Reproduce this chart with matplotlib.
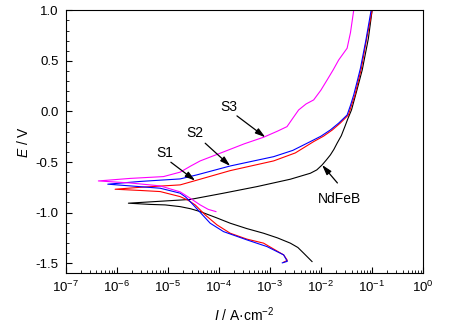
import numpy as np
import matplotlib
matplotlib.use("Agg")
import matplotlib.pyplot as plt
from matplotlib.ticker import LogLocator, MultipleLocator

plt.rcParams['font.family'] = ['Liberation Sans', 'DejaVu Sans']
plt.rcParams['mathtext.fontset'] = 'custom'
plt.rcParams['mathtext.rm'] = 'Liberation Sans'
plt.rcParams['mathtext.it'] = 'Liberation Sans:italic'

# Polarization data: log10 of current density (A/cm2) and potential (V)
# cathodic branch (from Ecorr down) and anodic branch (from Ecorr up)
ndfeb_cat_logi = [-5.769, -5.343, -5.049, -4.755, -4.55, -4.363, -4.05, -3.775, -3.45, -3.122,
                  -2.85, -2.598, -2.45, -2.337, -2.173]
ndfeb_cat_E = [-0.907, -0.919, -0.924, -0.941, -0.962, -0.990, -1.05, -1.105, -1.158, -1.204,
               -1.250, -1.302, -1.345, -1.401, -1.484]
ndfeb_an_logi = [-5.769, -5.343, -4.853, -4.559, -3.906, -3.251, -2.598, -2.206, -2.08, -1.976,
                 -1.89, -1.814, -1.745, -1.682, -1.60, -1.53, -1.47, -1.40, -1.30, -1.19, -1.07, -0.996]
ndfeb_an_E = [-0.907, -0.894, -0.879, -0.870, -0.808, -0.743, -0.670, -0.611, -0.578, -0.529,
              -0.478, -0.430, -0.375, -0.314, -0.240, -0.150, -0.070, 0.015, 0.20, 0.41, 0.72, 1.0]

s1_cat_logi = [-6.029, -5.539, -5.147, -4.755, -4.60, -4.461, -4.265, -4.035, -3.775, -3.45, -3.122,
               -2.729, -2.657, -2.735]
s1_cat_E = [-0.769, -0.781, -0.792, -0.842, -0.878, -0.924, -1.023, -1.121, -1.204, -1.262, -1.302,
            -1.418, -1.472, -1.492]
s1_an_logi = [-6.029, -5.539, -4.755, -4.461, -3.775, -2.925, -2.50, -2.141, -1.95, -1.775, -1.62,
              -1.461, -1.40, -1.333, -1.27, -1.206, -1.11, -0.996]
s1_an_E = [-0.769, -0.750, -0.726, -0.684, -0.585, -0.489, -0.410, -0.298, -0.245, -0.183, -0.115,
           -0.035, 0.060, 0.163, 0.295, 0.427, 0.70, 1.0]

s2_cat_logi = [-6.173, -5.735, -5.147, -4.755, -4.65, -4.559, -4.363, -4.167, -3.906, -3.447,
               -3.055, -2.729, -2.657, -2.755]
s2_cat_E = [-0.719, -0.736, -0.759, -0.808, -0.845, -0.891, -0.998, -1.105, -1.188, -1.270,
            -1.336, -1.418, -1.482, -1.497]
s2_an_logi = [-6.173, -5.539, -4.755, -4.427, -3.775, -2.925, -2.55, -2.206, -2.00, -1.814, -1.65,
              -1.486, -1.42, -1.357, -1.29, -1.225, -1.12, -1.016]
s2_an_E = [-0.719, -0.692, -0.667, -0.627, -0.539, -0.447, -0.385, -0.298, -0.245, -0.183, -0.115,
           -0.035, 0.060, 0.163, 0.295, 0.427, 0.70, 1.0]

s3_cat_logi = [-6.357, -5.735, -5.147, -4.755, -4.559, -4.363, -4.206, -4.055]
s3_cat_E = [-0.687, -0.707, -0.736, -0.795, -0.858, -0.924, -0.968, -0.990]
s3_an_logi = [-6.357, -5.735, -5.082, -4.755, -4.55, -4.363, -3.906, -3.50, -3.122, -2.85, -2.663,
              -2.545, -2.435, -2.290, -2.141, -2.00, -1.878, -1.76, -1.651, -1.486, -1.42, -1.357]
s3_an_E = [-0.687, -0.662, -0.644, -0.600, -0.540, -0.489, -0.400, -0.320, -0.255, -0.195, -0.150,
           -0.064, 0.015, 0.074, 0.114, 0.210, 0.311, 0.410, 0.509, 0.625, 0.780, 1.0]

curves = [
    ('NdFeB', ndfeb_cat_logi, ndfeb_cat_E, ndfeb_an_logi, ndfeb_an_E, 'black'),
    ('S1', s1_cat_logi, s1_cat_E, s1_an_logi, s1_an_E, '#ff0000'),
    ('S2', s2_cat_logi, s2_cat_E, s2_an_logi, s2_an_E, '#0000ff'),
    ('S3', s3_cat_logi, s3_cat_E, s3_an_logi, s3_an_E, '#ff00ff'),
]

fig = plt.figure(figsize=(4.5, 3.28), dpi=100)
ax = fig.add_axes([0.1456, 0.1668, 0.7944, 0.8018])

for name, cl, ce, al, ae, col in curves:
    # join cathodic (reversed) and anodic branches into one scan
    logi = np.concatenate([cl[::-1], al[1:]])
    E = np.concatenate([ce[::-1], ae[1:]])
    ax.plot(10.0 ** logi, E, color=col, lw=0.8, solid_joinstyle='round')

ax.set_xscale('log')
ax.set_xlim(1e-7, 1)
ax.set_ylim(-1.6, 1.0)
ax.xaxis.set_major_locator(LogLocator(base=10, numticks=10))
ax.xaxis.set_minor_locator(LogLocator(base=10, subs=np.arange(2, 10), numticks=10))
ax.yaxis.set_major_locator(MultipleLocator(0.5))
ax.yaxis.set_minor_locator(MultipleLocator(0.1))
ax.tick_params(which='both', direction='in', top=False, right=False, labelsize=9.5)
ax.tick_params(which='major', length=4, width=0.8)
ax.tick_params(which='minor', length=2.2, width=0.6)
ax.tick_params(axis='x', which='major', pad=5)
ax.tick_params(axis='y', which='major', pad=5)
ax.set_yticks([1.0, 0.5, 0.0, -0.5, -1.0, -1.5])
ax.set_yticklabels(['1.0', '0.5', '0.0', '-0.5', '-1.0', '-1.5'])

ax.set_xlabel('$\\it{I}$ / A·cm$^{-2}$', fontsize=10, labelpad=7)
ax.set_ylabel('$\\it{E}$ / V', fontsize=10, labelpad=3)

arrow = dict(arrowstyle='-|>,head_length=0.6,head_width=0.18', color='black', lw=0.9,
             shrinkA=0, shrinkB=0)
ax.annotate('', xy=(10 ** -3.088, -0.255), xytext=(10 ** -3.643, -0.044), arrowprops=arrow)
ax.annotate('', xy=(10 ** -3.775, -0.539), xytext=(10 ** -4.265, -0.314), arrowprops=arrow)
ax.annotate('', xy=(10 ** -4.461, -0.684), xytext=(10 ** -4.937, -0.502), arrowprops=arrow)
ax.annotate('', xy=(10 ** -1.976, -0.529), xytext=(10 ** -1.676, -0.707), arrowprops=arrow)
ax.text(10 ** -3.808, 0.047, 'S3', fontsize=10, ha='center', va='center')
ax.text(10 ** -4.461, -0.209, 'S2', fontsize=10, ha='center', va='center')
ax.text(10 ** -5.049, -0.413, 'S1', fontsize=10, ha='center', va='center')
ax.text(10 ** -2.059, -0.867, 'NdFeB', fontsize=10, ha='left', va='center')

fig.savefig('out.png', dpi=100)
